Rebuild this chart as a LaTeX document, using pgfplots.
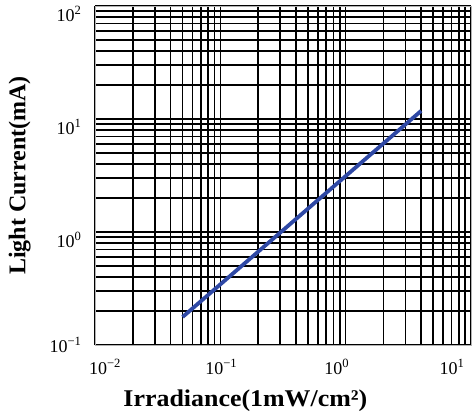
\documentclass[border=0pt]{standalone}
\usepackage{pgfplots}
\pgfplotsset{compat=1.18}
\usepackage{fontspec}
\setmainfont{Liberation Serif}
\definecolor{lineblue}{RGB}{46,72,165}
\begin{document}
\begin{tikzpicture}
\useasboundingbox (-95bp,-71bp) rectangle (381bp,345bp);
\begin{loglogaxis}[name=ax, at={(0,0)}, anchor=south west, scale only axis, width=376bp, height=339bp,
  xmin=0.01, xmax=10, ymin=0.1, ymax=100,
  grid=both,
  major grid style={black, line width=1.6bp},
  minor grid style={black, line width=1.6bp},
  axis line style={gray!60, line width=0.8bp},
  major tick length=0pt, minor tick length=0pt,
  xtick={0.01,0.1,1,10},
  xticklabels={\kern20bp 10\textsuperscript{−2}, \kern2bp 10\textsuperscript{−1}, \kern-18bp 10\textsuperscript{0}, \kern-38bp 10\textsuperscript{1}},
  ytick={0.1,1,10,100},
  yticklabels={10\textsuperscript{−1},{},{},{}},
  extra y ticks={1,10,100},
  extra y tick labels={10\textsuperscript{0}, 10\textsuperscript{1}, 10\textsuperscript{2}},
  extra y tick style={grid=none, yticklabel style={yshift=-8bp}},
  ticklabel style={font=\fontsize{18bp}{18bp}\selectfont},
  xticklabel style={yshift=-11bp},
  yticklabel style={xshift=-10bp},
  xlabel={Irradiance(1mW/cm²)},
  ylabel={Light Current(mA)},
  every axis x label/.style={at={(axis description cs:0.40,-0.165)}, anchor=center, xscale=1.08, font=\fontsize{24bp}{24bp}\selectfont\bfseries},
  every axis y label/.style={at={(axis description cs:-0.2,0.5)}, anchor=center, rotate=90, font=\fontsize{24bp}{24bp}\selectfont\bfseries},
]
\addplot[lineblue, line width=3.8bp] coordinates {(0.05,0.177) (4.0,11.8)};
\end{loglogaxis}
\end{tikzpicture}
\end{document}
